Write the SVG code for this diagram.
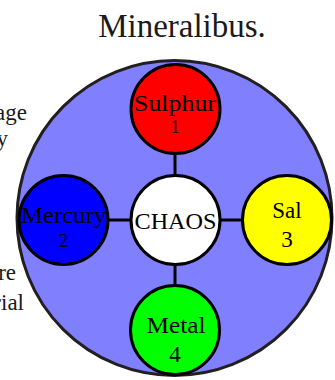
<svg xmlns="http://www.w3.org/2000/svg" width="335" height="380" viewBox="0 0 335 380">
<style>
text{font-family:"Liberation Serif","Times New Roman",serif;fill:#1a1a1a}
.t{font-size:33px;text-anchor:middle}
.side{font-size:23px;text-anchor:end}
.lbl{font-size:23px;text-anchor:middle;fill:#000}
.node{stroke:#000;stroke-width:3}
.edge{stroke:#000;stroke-width:3;fill:none}
</style>
<rect width="335" height="380" fill="#fff"/>
<text class="t" x="182" y="37">Mineralibus.</text>
<g id="side-text">
<text class="side" x="27" y="120">age</text>
<text class="side" x="8" y="146">y</text>
<text class="side" x="16" y="280">re</text>
<text class="side" x="24" y="310">rial</text>
</g>
<g id="frame"><circle cx="174.5" cy="218" r="157.5" fill="#8080ff" stroke="#231f20" stroke-width="3"/></g>
<g id="connectors">
<line class="edge" x1="175" y1="108" x2="175" y2="330"/>
<line class="edge" x1="63.5" y1="220" x2="287" y2="220"/>
</g>
<g id="chaos"><circle class="node" cx="175.5" cy="220" r="44.5" fill="#fff"/><text class="lbl" x="175.5" y="229" textLength="82" lengthAdjust="spacingAndGlyphs">CHAOS</text></g>
<g id="sulphur"><circle class="node" cx="175.5" cy="109" r="44.5" fill="#f00"/><text class="lbl" x="175" y="111" textLength="82" lengthAdjust="spacingAndGlyphs">Sulphur</text><text class="lbl" x="175" y="133" style="font-size:18px">1</text></g>
<g id="mercury"><circle class="node" cx="63.5" cy="220" r="44.5" fill="#00f"/><text class="lbl" x="63.5" y="223" textLength="85" lengthAdjust="spacingAndGlyphs">Mercury</text><text class="lbl" x="63.5" y="247" style="font-size:18px">2</text></g>
<g id="sal"><circle class="node" cx="287" cy="220" r="44.5" fill="#ff0"/><text class="lbl" x="287" y="218">Sal</text><text class="lbl" x="287" y="247">3</text></g>
<g id="metal"><circle class="node" cx="175" cy="330" r="44.5" fill="#0f0"/><text class="lbl" x="176" y="333" textLength="59" lengthAdjust="spacingAndGlyphs">Metal</text><text class="lbl" x="175" y="362">4</text></g>
</svg>
